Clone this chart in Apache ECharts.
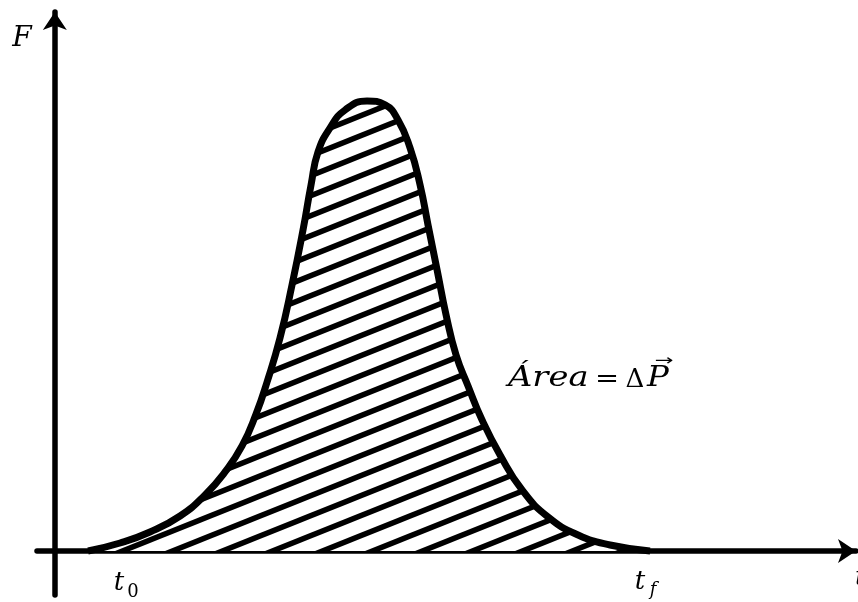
<!DOCTYPE html>
<html><head><meta charset="utf-8">
<script src="https://cdn.jsdelivr.net/npm/echarts@6/dist/echarts.min.js"></script>
<style>html,body{margin:0;padding:0;background:#fff}#c{width:858px;height:602px}</style>
</head><body><div id="c"></div>
<script>
// Impulse curve F(t)
const timeValues  = [4.1, 8.05, 11.75, 15.46, 18.54, 21.01, 23.11, 24.84, 26.2, 27.8, 29.28, 30.64, 31.63, 32.49, 33.98, 35.83, 38.54, 40.77, 42.37, 43.85, 45.09, 46.07, 47.19, 48.3, 49.53, 51.01, 52.74, 54.96, 57.68, 60.89, 64.59, 68.54, 73.48];
const forceValues = [0, 1.5, 3.57, 6.58, 10.53, 14.85, 19.74, 25.75, 31.77, 40.04, 50.0, 60.34, 68.8, 75.0, 79.51, 82.89, 84.59, 83.83, 81.02, 75.75, 68.8, 61.28, 52.82, 44.36, 36.84, 31.02, 24.62, 18.05, 11.47, 6.39, 3.01, 1.13, 0];
const yAxisName = 'F';
const tStartMain = 't', tStartSub = '0';
const tEndMain = 't', tEndSub = 'f';
const xAxisName = 't';
const areaWord = 'Área', areaEq = '=', areaDelta = 'Δ', areaP = 'P', areaArrow = '→';

const data = timeValues.map((t, i) => [t, forceValues[i]]);

function hatch() {
  const W = 50, H = 20;
  const c = document.createElement('canvas'); c.width = W; c.height = H;
  const g = c.getContext('2d');
  g.fillStyle = '#fff'; g.fillRect(0, 0, W, H);
  g.strokeStyle = '#000'; g.lineWidth = 5.5;
  for (let k = -1; k <= 1; k++) {
    g.beginPath(); g.moveTo(-W, 2 * H + k * H); g.lineTo(2 * W, -H + k * H); g.stroke();
  }
  return c;
}

const chart = echarts.init(document.getElementById('c'), null, {renderer: 'canvas'});
const serif = '"DejaVu Serif", serif';
chart.setOption({
  backgroundColor: '#fff',
  animation: false,
  grid: {left: 37, right: 2, top: 12, bottom: 7},
  xAxis: {
    type: 'value', min: -2.2, max: 98.9,
    axisLine: {show: true, onZero: true, symbol: ['none', 'arrow'], symbolSize: [18, 18], lineStyle: {color: '#000', width: 5.5}},
    axisTick: {show: false}, axisLabel: {show: false}, splitLine: {show: false}
  },
  yAxis: {
    type: 'value', min: -8.27, max: 101.3,
    axisLine: {show: true, onZero: true, symbol: ['none', 'arrow'], symbolSize: [18, 18], lineStyle: {color: '#000', width: 5.5}},
    axisTick: {show: false}, axisLabel: {show: false}, splitLine: {show: false}
  },
  series: [{
    type: 'line', data: data, smooth: 0.5, symbol: 'none',
    lineStyle: {color: '#000', width: 7, join: 'round'},
    areaStyle: {color: {image: hatch(), repeat: 'repeat'}, opacity: 1},
    z: 1
  }],
  graphic: [
    {type: 'text', x: 22, y: 39, style: {text: yAxisName, font: 'italic 28px ' + serif, fill: '#000', textAlign: 'center', textVerticalAlign: 'middle'}},
    {type: 'text', x: 119, y: 583, style: {text: tStartMain, font: 'italic 26px ' + serif, fill: '#000', textAlign: 'center', textVerticalAlign: 'middle'}},
    {type: 'text', x: 133, y: 592, style: {text: tStartSub, font: '18px ' + serif, fill: '#000', textAlign: 'center', textVerticalAlign: 'middle'}},
    {type: 'text', x: 640, y: 582, style: {text: tEndMain, font: 'italic 26px ' + serif, fill: '#000', textAlign: 'center', textVerticalAlign: 'middle'}},
    {type: 'text', x: 653, y: 590, style: {text: tEndSub, font: 'italic 18px ' + serif, fill: '#000', textAlign: 'center', textVerticalAlign: 'middle'}},
    {type: 'text', x: 855, y: 578, style: {text: xAxisName, font: 'italic 26px ' + serif, fill: '#000', textAlign: 'left', textVerticalAlign: 'middle'}},
    {type: 'text', x: 508, y: 379, scaleX: 1.25, style: {text: areaWord, font: 'italic 27px ' + serif, fill: '#000', textAlign: 'left', textVerticalAlign: 'middle'}},
    {type: 'text', x: 607, y: 379, scaleX: 1.15, style: {text: areaEq, font: '25px ' + serif, fill: '#000', textAlign: 'center', textVerticalAlign: 'middle'}},
    {type: 'text', x: 635, y: 380, style: {text: areaDelta, font: '26px ' + serif, fill: '#000', textAlign: 'center', textVerticalAlign: 'middle'}},
    {type: 'text', x: 658, y: 379, scaleX: 1.2, style: {text: areaP, font: 'italic 27px ' + serif, fill: '#000', textAlign: 'center', textVerticalAlign: 'middle'}},
    {type: 'text', x: 664, y: 361, scaleX: 1.5, style: {text: areaArrow, font: '15px "DejaVu Sans", sans-serif', fill: '#000', textAlign: 'center', textVerticalAlign: 'middle'}}
  ]
});
</script></body></html>
